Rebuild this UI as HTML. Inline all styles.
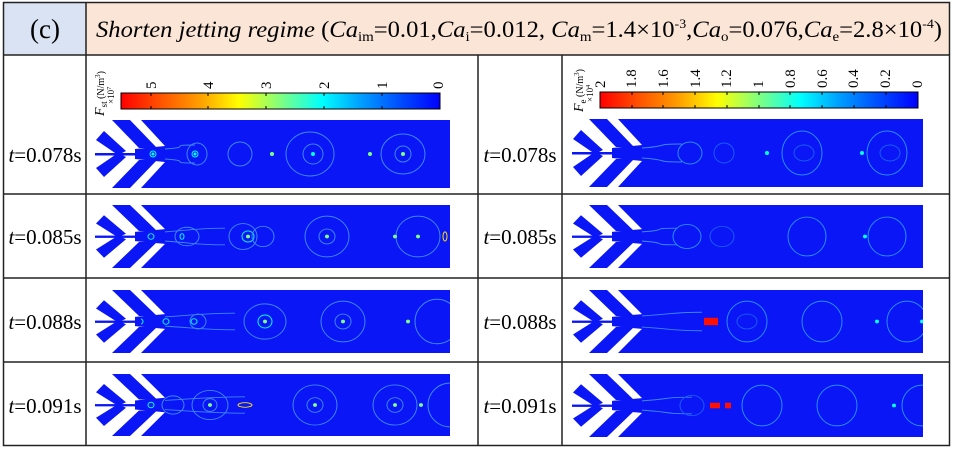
<!DOCTYPE html>
<html><head><meta charset="utf-8"><style>
html,body{margin:0;padding:0;background:#fff;}
svg, svg text{font-family:"Liberation Serif","Times New Roman",serif;}
</style></head><body>
<svg id="s" width="955" height="448" viewBox="0 0 955 448" xmlns="http://www.w3.org/2000/svg" font-family="Liberation Serif, serif">
<defs>
<linearGradient id="jet" x1="0" x2="1" y1="0" y2="0">
<stop offset="0" stop-color="#ff0000"/><stop offset="0.12" stop-color="#ff5000"/><stop offset="0.25" stop-color="#ffa000"/><stop offset="0.37" stop-color="#ffff00"/><stop offset="0.5" stop-color="#80ff80"/><stop offset="0.63" stop-color="#00ffff"/><stop offset="0.75" stop-color="#00a0ff"/><stop offset="0.87" stop-color="#0050ff"/><stop offset="1" stop-color="#0000ff"/>
</linearGradient>
</defs>
<rect x="3" y="3" width="83" height="52" fill="#dae3f3"/>
<rect x="86" y="3" width="864" height="52" fill="#fbe5d6"/>
<g stroke="#222" stroke-width="1.5" fill="none">
<rect x="3.5" y="2.5" width="946" height="443"/>
<line x1="3" y1="55" x2="950" y2="55"/>
<line x1="86" y1="3" x2="86" y2="446"/>
<line x1="478" y1="55" x2="478" y2="446"/>
<line x1="562" y1="55" x2="562" y2="446"/>
<line x1="3" y1="194" x2="950" y2="194"/>
<line x1="3" y1="278" x2="950" y2="278"/>
<line x1="3" y1="362" x2="950" y2="362"/>
</g>
<text x="45" y="38" font-size="27" text-anchor="middle">(c)</text>
<text x="96" y="37" font-size="23" textLength="846" lengthAdjust="spacingAndGlyphs"><tspan font-style="italic">Shorten jetting regime</tspan> (<tspan font-style="italic">Ca</tspan><tspan font-size="14" dy="4">im</tspan><tspan dy="-4">=0.01,</tspan><tspan font-style="italic">Ca</tspan><tspan font-size="14" dy="4">i</tspan><tspan dy="-4">=0.012, </tspan><tspan font-style="italic">Ca</tspan><tspan font-size="14" dy="4">m</tspan><tspan dy="-4">=1.4×10</tspan><tspan font-size="13" dy="-9">-3</tspan><tspan dy="9">,</tspan><tspan font-style="italic">Ca</tspan><tspan font-size="14" dy="4">o</tspan><tspan dy="-4">=0.076,</tspan><tspan font-style="italic">Ca</tspan><tspan font-size="14" dy="4">e</tspan><tspan dy="-4">=2.8×10</tspan><tspan font-size="13" dy="-9">-4</tspan><tspan dy="9">)</tspan></text>
<g font-size="21" text-anchor="middle">
<text x="45" y="162"><tspan font-style="italic">t</tspan>=0.078s</text>
<text x="45" y="244"><tspan font-style="italic">t</tspan>=0.085s</text>
<text x="45" y="329"><tspan font-style="italic">t</tspan>=0.088s</text>
<text x="45" y="413"><tspan font-style="italic">t</tspan>=0.091s</text>
<text x="520" y="162"><tspan font-style="italic">t</tspan>=0.078s</text>
<text x="520" y="244"><tspan font-style="italic">t</tspan>=0.085s</text>
<text x="520" y="329"><tspan font-style="italic">t</tspan>=0.088s</text>
<text x="520" y="413"><tspan font-style="italic">t</tspan>=0.091s</text>
</g>
<rect x="121" y="93" width="319" height="16" fill="url(#jet)" stroke="#000" stroke-width="1"/>
<rect x="600" y="92" width="318" height="16" fill="url(#jet)" stroke="#000" stroke-width="1"/>
<g stroke="#000" stroke-width="1">
<path d="M151 93v3M208 93v3M266 93v3M324 93v3M382 93v3M151 109v-3M208 109v-3M266 109v-3M324 109v-3M382 109v-3"/>
<path d="M632 92v3M663 92v3M695 92v3M727 92v3M759 92v3M790 92v3M822 92v3M854 92v3M886 92v3M632 108v-3M663 108v-3M695 108v-3M727 108v-3M759 108v-3M790 108v-3M822 108v-3M854 108v-3M886 108v-3"/>
</g>
<g font-size="15">
<text transform="translate(156,89) rotate(-90)">5</text>
<text transform="translate(213,89) rotate(-90)">4</text>
<text transform="translate(271,89) rotate(-90)">3</text>
<text transform="translate(329,89) rotate(-90)">2</text>
<text transform="translate(387,89) rotate(-90)">1</text>
<text transform="translate(443,89) rotate(-90)">0</text>
<text transform="translate(605,88) rotate(-90)">2</text>
<text transform="translate(636,88) rotate(-90)">1.8</text>
<text transform="translate(668,88) rotate(-90)">1.6</text>
<text transform="translate(700,88) rotate(-90)">1.4</text>
<text transform="translate(731,88) rotate(-90)">1.2</text>
<text transform="translate(763,88) rotate(-90)">1</text>
<text transform="translate(795,88) rotate(-90)">0.8</text>
<text transform="translate(827,88) rotate(-90)">0.6</text>
<text transform="translate(858,88) rotate(-90)">0.4</text>
<text transform="translate(890,88) rotate(-90)">0.2</text>
<text transform="translate(922,88) rotate(-90)">0</text>
</g>
<text transform="translate(104,116) rotate(-90)" font-size="14"><tspan font-style="italic">F</tspan><tspan font-size="9" dy="3">st</tspan><tspan font-size="10" dy="-3"> (N/m</tspan><tspan font-size="7" dy="-4">3</tspan><tspan font-size="10" dy="4">)</tspan></text>
<text transform="translate(114,104) rotate(-90)" font-size="9">×10<tspan font-size="6" dy="-3">7</tspan></text>
<text transform="translate(583,112) rotate(-90)" font-size="14"><tspan font-style="italic">F</tspan><tspan font-size="9" dy="3">e</tspan><tspan font-size="10" dy="-3"> (N/m</tspan><tspan font-size="7" dy="-4">3</tspan><tspan font-size="10" dy="4">)</tspan></text>
<text transform="translate(593,102) rotate(-90)" font-size="9">×10<tspan font-size="6" dy="-3">4</tspan></text>
<g id="panels"></g>
</svg>
<script>
var NS="http://www.w3.org/2000/svg",P=document.getElementById('panels'),cid=0;
function el(t,a,p){var e=document.createElementNS(NS,t);for(var k in a)e.setAttribute(k,a[k]);(p||P).appendChild(e);return e;}
var B="#0a16f6";
function chan(x,y,w,h,rings,dots,reds,thread){
 var g=el('g',{transform:'translate('+x+','+y+') scale(1,'+(h/68)+')'});
 var c=34;
 var id='cl'+(cid++);
 var cp=el('clipPath',{id:id},g);el('rect',{x:46,y:0,width:w-46,height:68},cp);
 function poly(pts){el('polygon',{points:pts.map(function(p){return p[0]+','+p[1]}).join(' '),fill:B},g);}
 poly([[46,0],[w,0],[w,68],[46,68],[70,42],[40,39],[40,29],[70,26]]);
 [1,-1].forEach(function(s){
  function m(p){return [p[0],c+s*(p[1]-c)];}
  poly([[17,0],[35,0],[62,28],[44,28]].map(m));
  poly([[1,20],[9,11],[31,31],[23,35]].map(m));
 });
 el('rect',{x:0,y:33,width:44,height:2.5,fill:B},g);
 var cg=el('g',{'clip-path':'url(#'+id+')'},g);
 if(thread){el('path',{d:thread,fill:'none',stroke:'#3f86ff','stroke-width':1},cg);}
 var rg=el('g',{fill:'none',stroke:'#3f86ff','stroke-width':1},cg);
 rings.forEach(function(r){el('ellipse',{cx:r[0],cy:c,rx:r[1],ry:r[2],stroke:r[3]||'#3f86ff'},rg);});
 dots.forEach(function(d){el('circle',{cx:d[0],cy:c,r:d[1],fill:d[2]||'#7fff7f',stroke:'none'},cg);});
 (reds||[]).forEach(function(r){el('rect',{x:r[0],y:c-r[2]/2,width:r[1],height:r[2],fill:'#ff1000'},cg);});
}
function th(x1,x2,hw){return 'M'+x1+' '+(34-hw)+' C'+(x1+30)+' '+(34-hw-2)+' '+(x2-30)+' '+(34-hw-4)+' '+x2+' '+(34-hw-4)+' M'+x1+' '+(34+hw)+' C'+(x1+30)+' '+(34+hw+2)+' '+(x2-30)+' '+(34+hw+4)+' '+x2+' '+(34+hw+4);}
chan(95,120,355,68,[[24,6,2.5,'#ffe000'],[58,3,3,'#00ffff'],[100,3,3,'#00ffff'],[102,10,11],[145,12,12],[215,24,22],[218,10,10],[308,22,20],[308,8,8]],[[58,1.5,'#00ffff'],[100,1.5,'#00ffff'],[177,2],[218,2,'#00ffff'],[275,2],[308,2]],null,th(70,100,5));
chan(95,205,355,63,[[26,6,2.5,'#ffe000'],[56,3,3,'#00ffff'],[87,2,3,'#00ffff'],[92,12,10],[148,14,14],[153,6,6,'#00ffff'],[168,11,11],[232,22,22],[232,8,8],[323,22,22],[350,2,5,'#ffe000']],[[153,2],[232,2],[300,2],[323,2]],null,th(70,130,5));
chan(95,290,355,63,[[20,5,2.5,'#ffe000'],[45,3,3,'#00ffff'],[71,3,3,'#00ffff'],[99,3,3,'#00ffff'],[103,8,8],[170,21,19],[170,7,7,'#00ffff'],[248,22,22],[248,8,8],[342,22,24]],[[170,2],[248,2],[313,2]],null,th(70,140,5));
chan(95,374,355,62,[[22,6,2.5,'#ffe000'],[56,3,3,'#00ffff'],[78,11,10],[115,18,16],[115,7,7],[150,7,2.5,'#ffe000'],[220,22,22],[220,8,8],[300,22,22],[300,8,8],[355,22,24]],[[115,2],[220,2],[300,2],[326,2]],null,th(70,150,5));
chan(572,119,351,68,[[118,12,11,'#2a8cff'],[152,10,10,'#1a5cff'],[230,20,22,'#2a8cff'],[232,10,8,'#1a5cff'],[315,20,22,'#2a8cff'],[318,10,8,'#1a5cff']],[[195,2,'#00ffff'],[290,2,'#00ffff']],null,th(70,110,5));
chan(572,205,351,63,[[115,14,13,'#2a8cff'],[150,12,11,'#1a5cff'],[235,19,21,'#2a8cff'],[315,19,21,'#2a8cff']],[[293,2,'#00ffff']],null,th(70,105,5));
chan(572,290,351,63,[[175,20,22,'#2a8cff'],[175,10,8,'#1a5cff'],[250,20,22,'#2a8cff'],[335,20,22,'#2a8cff']],[[305,2,'#00ffff'],[350,2,'#00ffff']],[[132,14,8]],th(70,130,6));
chan(572,374,351,63,[[120,12,11,'#1a5cff'],[190,20,22,'#2a8cff'],[265,20,22,'#2a8cff'],[350,20,22,'#2a8cff']],[[322,2,'#00ffff']],[[138,10,6],[153,6,6]],th(70,120,5));
</script>
</body></html>
